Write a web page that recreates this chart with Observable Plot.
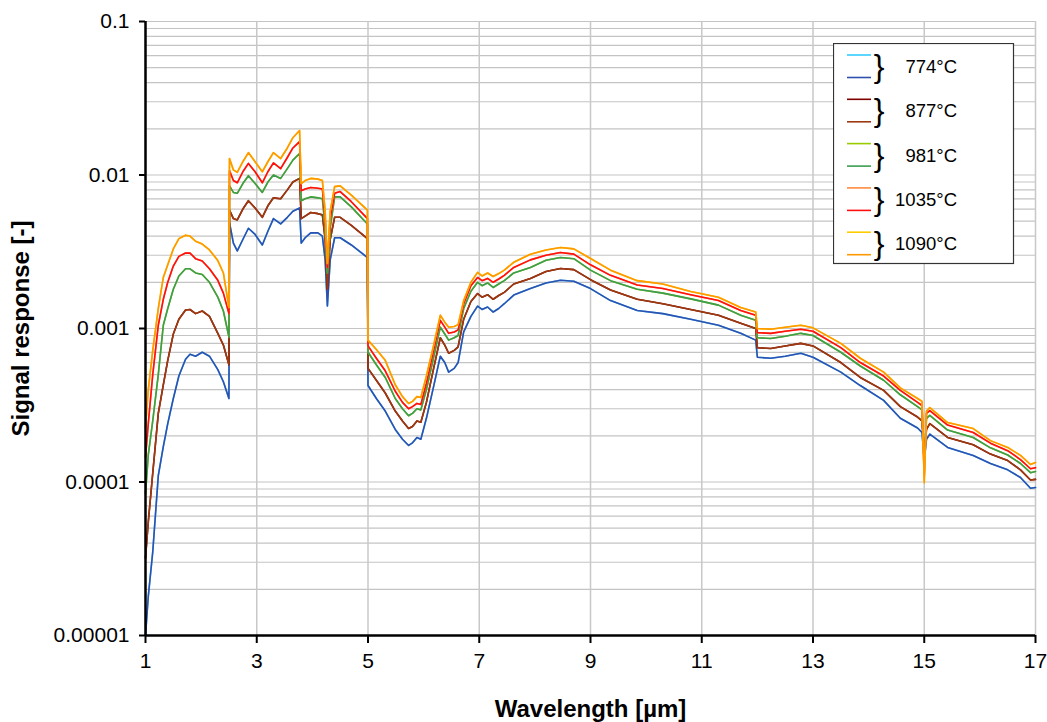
<!DOCTYPE html>
<html>
<head>
<meta charset="utf-8">
<script src="https://cdn.jsdelivr.net/npm/d3@7"></script>
<script src="https://cdn.jsdelivr.net/npm/@observablehq/plot@0.6"></script>
<style>
  html, body { margin: 0; padding: 0; background: #fff; }
  #chart { position: relative; width: 1047px; height: 722px; font-family: "Liberation Sans", Arial, sans-serif; }
  #legend { position: absolute; left: 833px; top: 43px; }
</style>
</head>
<body>
<div id="chart"></div>
<script>
// Wavelength samples (µm), shared by every spectrum
const wavelength = [
  1.00, 1.05, 1.13, 1.23, 1.32, 1.40, 1.50, 1.60, 1.72, 1.80, 1.90, 2.02, 2.15, 2.30, 2.40, 2.50,
  2.51, 2.58, 2.65, 2.75, 2.85, 2.97, 3.10, 3.20, 3.30, 3.43, 3.55, 3.65, 3.77,
  3.80, 3.87, 3.97, 4.10, 4.18, 4.23, 4.27, 4.32, 4.40, 4.50, 4.70, 4.99,
  5.00, 5.15, 5.31, 5.49, 5.62, 5.73, 5.80, 5.88, 5.95, 6.05, 6.18, 6.30, 6.38, 6.45, 6.55, 6.62,
  6.72, 6.85, 6.97, 7.05, 7.15, 7.25, 7.35, 7.45, 7.62, 7.92, 8.20, 8.46, 8.70, 9.00, 9.36, 9.84,
  10.30, 10.80, 11.30, 11.70, 11.97,
  12.00, 12.24, 12.50, 12.78, 13.00, 13.50, 13.85, 14.27, 14.57, 14.88, 14.96,
  15.00, 15.04, 15.10, 15.42, 15.88, 16.19, 16.50, 16.73, 16.91, 17.00
];

// Signal response at 774 °C
const s774 = [
  1.0e-5, 1.8e-5, 3.5e-5, 1.1e-4, 1.7e-4, 2.4e-4, 3.5e-4, 4.9e-4, 6.3e-4, 6.8e-4, 6.6e-4, 7.0e-4, 6.6e-4, 5.4e-4, 4.5e-4, 3.5e-4,
  4.9e-3, 3.6e-3, 3.2e-3, 3.8e-3, 4.5e-3, 4.1e-3, 3.5e-3, 4.3e-3, 5.2e-3, 4.8e-3, 5.3e-3, 5.8e-3, 6.1e-3,
  3.6e-3, 3.9e-3, 4.2e-3, 4.2e-3, 4.0e-3, 2.8e-3, 1.4e-3, 2.8e-3, 3.9e-3, 3.9e-3, 3.5e-3, 2.9e-3,
  4.25e-4, 3.5e-4, 2.9e-4, 2.2e-4, 1.9e-4, 1.73e-4, 1.8e-4, 1.95e-4, 1.9e-4, 2.6e-4, 4.2e-4, 6.6e-4, 6.0e-4, 5.2e-4, 5.5e-4, 6.0e-4,
  9.5e-4, 1.2e-3, 1.4e-3, 1.33e-3, 1.38e-3, 1.28e-3, 1.35e-3, 1.45e-3, 1.65e-3, 1.82e-3, 1.98e-3, 2.06e-3, 2.03e-3, 1.82e-3, 1.52e-3, 1.31e-3,
  1.25e-3, 1.15e-3, 1.05e-3, 9.3e-4, 8.4e-4,
  6.5e-4, 6.4e-4, 6.6e-4, 6.9e-4, 6.5e-4, 5.2e-4, 4.25e-4, 3.4e-4, 2.6e-4, 2.25e-4, 2.1e-4,
  1.38e-4, 1.9e-4, 2.05e-4, 1.68e-4, 1.49e-4, 1.32e-4, 1.2e-4, 1.07e-4, 9.1e-5, 9.2e-5
];

// Signal response at 877 °C
const s877 = [
  3.2e-5, 5.5e-5, 1.14e-4, 2.8e-4, 4.3e-4, 6.2e-4, 9.2e-4, 1.15e-3, 1.32e-3, 1.33e-3, 1.25e-3, 1.3e-3, 1.2e-3, 9.3e-4, 7.8e-4, 5.8e-4,
  5.9e-3, 5.2e-3, 5.1e-3, 6.0e-3, 6.8e-3, 6.1e-3, 5.3e-3, 6.3e-3, 7.1e-3, 7.0e-3, 8.0e-3, 9.0e-3, 9.5e-3,
  5.2e-3, 5.4e-3, 5.7e-3, 5.6e-3, 5.5e-3, 3.8e-3, 1.8e-3, 3.8e-3, 5.3e-3, 5.3e-3, 4.7e-3, 3.85e-3,
  5.5e-4, 4.6e-4, 3.8e-4, 2.9e-4, 2.5e-4, 2.23e-4, 2.3e-4, 2.5e-4, 2.45e-4, 3.3e-4, 5.5e-4, 8.7e-4, 7.8e-4, 6.9e-4, 7.2e-4, 7.6e-4,
  1.15e-3, 1.5e-3, 1.69e-3, 1.6e-3, 1.66e-3, 1.55e-3, 1.64e-3, 1.72e-3, 1.95e-3, 2.12e-3, 2.35e-3, 2.46e-3, 2.42e-3, 2.08e-3, 1.78e-3, 1.55e-3,
  1.45e-3, 1.33e-3, 1.22e-3, 1.08e-3, 1.0e-3,
  7.5e-4, 7.4e-4, 7.7e-4, 8.0e-4, 7.7e-4, 6.0e-4, 4.8e-4, 3.95e-4, 3.1e-4, 2.65e-4, 2.5e-4,
  1.5e-4, 2.2e-4, 2.4e-4, 1.95e-4, 1.75e-4, 1.52e-4, 1.38e-4, 1.2e-4, 1.03e-4, 1.04e-4
];

// Signal response at 981 °C
const s981 = [
  8.4e-5, 1.5e-4, 2.5e-4, 5.0e-4, 1.05e-3, 1.35e-3, 1.8e-3, 2.2e-3, 2.45e-3, 2.45e-3, 2.3e-3, 2.25e-3, 2.0e-3, 1.6e-3, 1.3e-3, 8.8e-4,
  8.5e-3, 7.7e-3, 7.6e-3, 8.8e-3, 9.9e-3, 8.8e-3, 7.7e-3, 9.0e-3, 1.0e-2, 9.5e-3, 1.1e-2, 1.25e-2, 1.38e-2,
  6.8e-3, 7.0e-3, 7.2e-3, 7.1e-3, 7.0e-3, 4.5e-3, 2.3e-3, 4.5e-3, 7.2e-3, 7.2e-3, 6.2e-3, 4.8e-3,
  7.0e-4, 5.8e-4, 4.8e-4, 3.5e-4, 3.0e-4, 2.7e-4, 2.8e-4, 3.0e-4, 2.95e-4, 4.0e-4, 6.5e-4, 1.02e-3, 9.2e-4, 8.4e-4, 8.7e-4, 9.0e-4,
  1.35e-3, 1.75e-3, 2.0e-3, 1.9e-3, 1.98e-3, 1.85e-3, 1.95e-3, 2.05e-3, 2.3e-3, 2.5e-3, 2.78e-3, 2.9e-3, 2.85e-3, 2.4e-3, 2.05e-3, 1.8e-3,
  1.7e-3, 1.56e-3, 1.42e-3, 1.22e-3, 1.13e-3,
  8.7e-4, 8.6e-4, 8.9e-4, 9.3e-4, 9.0e-4, 7.0e-4, 5.7e-4, 4.6e-4, 3.7e-4, 3.1e-4, 2.95e-4,
  1.3e-4, 2.6e-4, 2.72e-4, 2.18e-4, 1.95e-4, 1.67e-4, 1.5e-4, 1.32e-4, 1.15e-4, 1.17e-4
];

// Signal response at 1035 °C
const s1035 = [
  1.45e-4, 2.4e-4, 5.0e-4, 1.05e-3, 1.55e-3, 2.0e-3, 2.55e-3, 2.95e-3, 3.1e-3, 3.1e-3, 2.85e-3, 2.75e-3, 2.45e-3, 2.06e-3, 1.7e-3, 1.25e-3,
  1.07e-2, 9.2e-3, 8.9e-3, 1.05e-2, 1.19e-2, 1.05e-2, 8.9e-3, 1.05e-2, 1.2e-2, 1.1e-2, 1.3e-2, 1.5e-2, 1.65e-2,
  7.9e-3, 8.1e-3, 8.3e-3, 8.2e-3, 8.1e-3, 5.2e-3, 2.5e-3, 5.2e-3, 7.6e-3, 7.8e-3, 6.7e-3, 5.2e-3,
  7.7e-4, 6.4e-4, 5.3e-4, 3.9e-4, 3.3e-4, 3.0e-4, 3.1e-4, 3.25e-4, 3.2e-4, 4.4e-4, 7.2e-4, 1.13e-3, 1.02e-3, 9.3e-4, 9.5e-4, 9.8e-4,
  1.45e-3, 1.9e-3, 2.15e-3, 2.05e-3, 2.12e-3, 2.0e-3, 2.1e-3, 2.22e-3, 2.5e-3, 2.8e-3, 3.0e-3, 3.13e-3, 3.05e-3, 2.6e-3, 2.22e-3, 1.92e-3,
  1.82e-3, 1.66e-3, 1.52e-3, 1.31e-3, 1.22e-3,
  9.4e-4, 9.3e-4, 9.6e-4, 9.9e-4, 9.6e-4, 7.5e-4, 6.0e-4, 4.9e-4, 3.95e-4, 3.3e-4, 3.15e-4,
  1.1e-4, 2.8e-4, 2.92e-4, 2.35e-4, 2.1e-4, 1.79e-4, 1.6e-4, 1.4e-4, 1.22e-4, 1.24e-4
];

// Signal response at 1090 °C
const s1090 = [
  2.26e-4, 4.0e-4, 7.2e-4, 1.35e-3, 2.15e-3, 2.6e-3, 3.3e-3, 3.85e-3, 4.05e-3, 4.0e-3, 3.7e-3, 3.55e-3, 3.25e-3, 2.77e-3, 2.3e-3, 1.37e-3,
  1.28e-2, 1.08e-2, 1.04e-2, 1.22e-2, 1.4e-2, 1.22e-2, 1.05e-2, 1.22e-2, 1.4e-2, 1.28e-2, 1.5e-2, 1.75e-2, 1.95e-2,
  8.8e-3, 9.2e-3, 9.5e-3, 9.4e-3, 9.2e-3, 5.8e-3, 2.65e-3, 5.8e-3, 8.4e-3, 8.5e-3, 7.4e-3, 5.9e-3,
  8.4e-4, 7.3e-4, 6.2e-4, 4.3e-4, 3.6e-4, 3.25e-4, 3.35e-4, 3.6e-4, 3.55e-4, 4.9e-4, 7.8e-4, 1.22e-3, 1.1e-3, 1.02e-3, 1.03e-3, 1.06e-3,
  1.52e-3, 2.0e-3, 2.32e-3, 2.2e-3, 2.3e-3, 2.18e-3, 2.28e-3, 2.4e-3, 2.7e-3, 3.05e-3, 3.25e-3, 3.37e-3, 3.3e-3, 2.86e-3, 2.4e-3, 2.05e-3,
  1.95e-3, 1.74e-3, 1.6e-3, 1.37e-3, 1.28e-3,
  1.0e-3, 9.9e-4, 1.02e-3, 1.05e-3, 1.01e-3, 8.0e-4, 6.4e-4, 5.2e-4, 4.1e-4, 3.5e-4, 3.35e-4,
  9.9e-5, 2.9e-4, 3.05e-4, 2.44e-4, 2.23e-4, 1.86e-4, 1.68e-4, 1.49e-4, 1.3e-4, 1.34e-4
];

const temperatures = ["774°C", "877°C", "981°C", "1035°C", "1090°C"];
const spectra = [s774, s877, s981, s1035, s1090];

// Axis ticks and their labels
const xTicks = [1, 3, 5, 7, 9, 11, 13, 15, 17];
const yTicks = [1e-5, 1e-4, 1e-3, 1e-2, 1e-1];
const yTickLabels = ["0.00001", "0.0001", "0.001", "0.01", "0.1"];

// Two measurement runs per temperature: [first run, second run]
const runColors = [
  ["#33CCFF", "#3050B0"],
  ["#800000", "#9C3A10"],
  ["#99CC00", "#3C9C50"],
  ["#FF8C40", "#FF1010"],
  ["#FFCC00", "#FF9900"]
];

// Long table: one row per sample, run keys in drawing order (second run on top)
const rows = [];
const keys = [];
temperatures.forEach((t, ti) => {
  [0, 1].forEach(r => {
    const key = `${t} run ${r + 1}`;
    keys.push(key);
    wavelength.forEach((w, i) => rows.push({wavelength: w, signal: spectra[ti][i], key}));
  });
});

// Minor horizontal gridlines at 1..9 × each decade
const yGrid = [];
for (let e = -5; e <= -1; e++) {
  for (let m = 1; m <= 9; m++) {
    const v = m * Math.pow(10, e);
    if (v <= 0.1 + 1e-12) yGrid.push(v);
  }
}

const font = "Liberation Sans, Arial, sans-serif";

const chart = Plot.plot({
  width: 1047,
  height: 722,
  marginLeft: 145,
  marginRight: 12,
  marginTop: 21,
  marginBottom: 87,
  style: {fontFamily: font, background: "#fff", color: "#000"},
  x: {domain: [1, 17]},
  y: {type: "log", domain: [1e-5, 0.1]},
  color: {domain: keys, range: runColors.flat()},
  marks: [
    Plot.ruleY(yGrid, {stroke: "#c4c4c4", strokeWidth: 1.2}),
    Plot.ruleX(xTicks, {stroke: "#c8c8c8", strokeWidth: 1.5}),
    Plot.line(rows, {x: "wavelength", y: "signal", z: "key", stroke: "key", strokeWidth: 1.6, curve: "linear"}),
    Plot.axisY({
      ticks: yTicks,
      tickFormat: d => yTickLabels[yTicks.findIndex(t => Math.abs(t - d) / t < 1e-6)],
      tickSize: 6, tickPadding: 10, fontSize: 21, label: null, strokeWidth: 2
    }),
    Plot.axisX({
      ticks: xTicks, tickFormat: d => String(d),
      tickSize: 8, tickPadding: 10, fontSize: 21, label: null, strokeWidth: 2
    }),
    Plot.ruleX([1], {stroke: "#000", strokeWidth: 2.5}),
    Plot.ruleY([1e-5], {stroke: "#000", strokeWidth: 2.5}),
    Plot.text(["Signal response [-]"], {
      frameAnchor: "left", rotate: -90, dx: -124, textAnchor: "middle", lineAnchor: "middle",
      fontSize: 24, fontWeight: "bold", fill: "#000"
    }),
    Plot.text(["Wavelength [µm]"], {
      frameAnchor: "bottom", dy: 74, textAnchor: "middle", lineAnchor: "middle",
      fontSize: 24, fontWeight: "bold", fill: "#000"
    })
  ]
});

document.getElementById("chart").appendChild(chart);

// Legend box: a pair of run swatches, a brace and the temperature for each entry
const legend = d3.select("#chart").append("svg")
  .attr("id", "legend")
  .attr("width", 182)
  .attr("height", 222);
legend.append("rect")
  .attr("x", 0.5).attr("y", 0.5).attr("width", 180).attr("height", 220)
  .attr("fill", "#fff").attr("stroke", "#333").attr("stroke-width", 1.2);

temperatures.forEach((t, i) => {
  const g = legend.append("g").attr("transform", `translate(0,${12 + i * 44.3})`);
  g.append("line").attr("x1", 14).attr("x2", 38).attr("y1", 0).attr("y2", 0)
    .attr("stroke", runColors[i][0]).attr("stroke-width", 1.6);
  g.append("line").attr("x1", 14).attr("x2", 38).attr("y1", 22.5).attr("y2", 22.5)
    .attr("stroke", runColors[i][1]).attr("stroke-width", 1.6);
  g.append("text").attr("x", 46).attr("y", 22)
    .attr("text-anchor", "middle")
    .style("font-family", font).style("font-size", "32px").text("}");
  g.append("text").attr("x", 124).attr("y", 18)
    .attr("text-anchor", "end")
    .style("font-family", font).style("font-size", "18.5px").text(t);
});
</script>
</body>
</html>
